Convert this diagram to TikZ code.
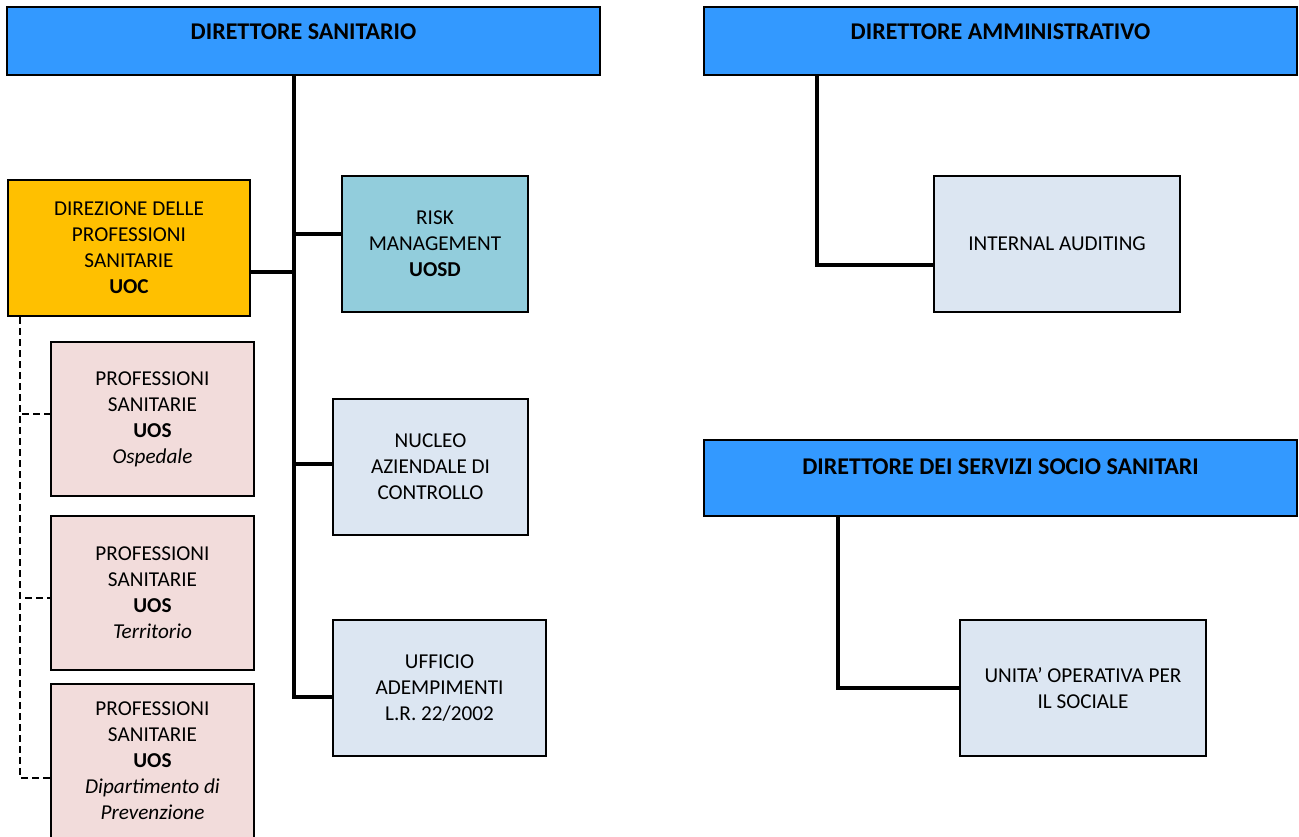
\documentclass[tikz,border=0pt]{standalone}
\usepackage{fontspec}
\setmainfont{Carlito}
\usepackage{tikz}
\usetikzlibrary{positioning}

\definecolor{headblue}{RGB}{51,153,255}
\definecolor{uocorange}{RGB}{255,192,0}
\definecolor{riskteal}{RGB}{146,205,220}
\definecolor{paleblue}{RGB}{220,230,242}
\definecolor{palepink}{RGB}{242,220,219}

\begin{document}
\begin{tikzpicture}[x=0.5pt,y=-0.5pt,
    box/.style={draw=black,line width=1pt,align=center,inner sep=0pt,
      font=\fontsize{10.6}{13}\selectfont},
    head/.style={box,fill=headblue,minimum width=296.5pt,text height=8pt,text depth=10pt,
      font=\fontsize{12}{14}\selectfont\bfseries},
    unit/.style={box,fill=paleblue,minimum height=68pt},
    uos/.style={box,fill=palepink,minimum width=101.5pt,minimum height=77pt},
    conn/.style={line width=1.7pt},
    dashline/.style={line width=0.6pt,dash pattern=on 3.5pt off 2pt}]
  \useasboundingbox (0,0) rectangle (1299,836);

  % directors
  \node[head,minimum height=34pt] (ds) at (303.5,41) {DIRETTORE SANITARIO};
  \node[head,minimum height=34pt] (da) at (1000.5,41) {DIRETTORE AMMINISTRATIVO};
  \node[head,minimum height=38pt,text depth=12pt] (dss) at (1000.5,478) {DIRETTORE DEI SERVIZI SOCIO SANITARI};

  % staff of the direttore sanitario
  \node[box,fill=uocorange,minimum width=121pt,minimum height=68pt] (dps) at (129,248)
    {DIREZIONE DELLE\\PROFESSIONI\\SANITARIE\\\textbf{UOC}};
  \node[box,fill=riskteal,minimum width=93pt,minimum height=68pt] (risk) at (435,244)
    {RISK\\MANAGEMENT\\\textbf{UOSD}};
  \node[unit,minimum width=97.5pt] (nac) at (430.5,467) {NUCLEO\\AZIENDALE DI\\CONTROLLO};
  \node[unit,minimum width=106.5pt] (ufa) at (439.5,688) {UFFICIO\\ADEMPIMENTI\\L.R. 22/2002};

  \node[uos] (pos1) at (152.5,419) {PROFESSIONI\\SANITARIE\\\textbf{UOS}\\\textit{Ospedale}};
  \node[uos] (pos2) at (152.5,593) {PROFESSIONI\\SANITARIE\\\textbf{UOS}\\\textit{Territorio}};
  \node[uos] (pos3) at (152.5,761) {PROFESSIONI\\SANITARIE\\\textbf{UOS}\\\textit{Dipartimento di}\\\textit{Prevenzione}};

  % other units
  \node[unit,minimum width=123pt] (ia) at (1057,244) {INTERNAL AUDITING};
  \node[unit,minimum width=123pt] (uops) at (1083,688) {UNITA’ OPERATIVA PER\\IL SOCIALE};

  % spine
  \coordinate (jr) at (294,234);
  \coordinate (jd) at (294,272);
  \coordinate (jn) at (294,464);
  \coordinate (jb) at (294,697);
  \draw[conn] (ds.south -| jb) -- (jb) -- (jb -| ufa.west);
  \draw[conn] (jr) -- (jr -| risk.west);
  \draw[conn] (jd) -- (jd -| dps.east);
  \draw[conn] (jn) -- (jn -| nac.west);

  % dashed links
  \coordinate (dl) at ([xshift=6.5pt]dps.south west);
  \draw[dashline] (dl) |- ([yshift=2.5pt]pos1.west);
  \draw[dashline] (dl) |- ([yshift=-2.5pt]pos2.west);
  \draw[dashline] (dl) |- ([yshift=-8.5pt]pos3.west);

  % right side
  \draw[conn] ([xshift=57pt]da.south west) |- ([yshift=-10.5pt]ia.west);
  \draw[conn] ([xshift=67.5pt]dss.south west) |- (uops.west);
\end{tikzpicture}
\end{document}
